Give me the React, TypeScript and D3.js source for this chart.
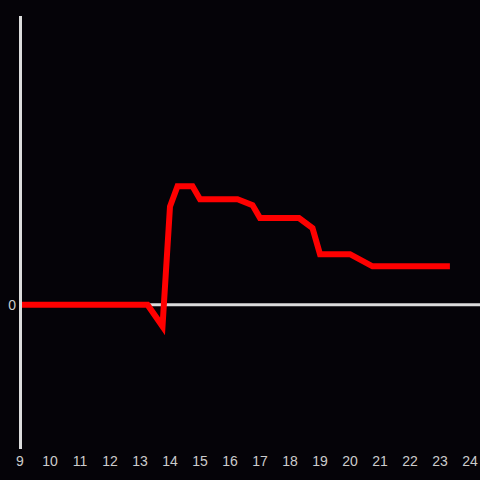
import React, { useEffect } from "react";
import * as d3 from "d3";

const hours = [9, 13.25, 13.75, 14.0, 14.25, 14.75, 15.0, 16.25, 16.75, 17.0, 18.3, 18.75, 19.0, 20.0, 20.75, 23.33];
const values = [0, 0, -7.5, 34, 41, 41, 36.5, 36.5, 34.5, 30, 30, 26.5, 17.5, 17.5, 13.3, 13.3];
const xTicks = [9, 10, 11, 12, 13, 14, 15, 16, 17, 18, 19, 20, 21, 22, 23, 24];
const yTicks = [0];

const W = 480;
const H = 480;

export default function App() {
  useEffect(() => {
    document.body.style.margin = "0";
    document.body.style.background = "#050308";
  }, []);

  const x = d3.scaleLinear().domain([9, 24]).range([20, 470]);
  const y = d3.scaleLinear().domain([-50, 100]).range([449, 16]);
  const pts: [number, number][] = hours.map((h, i) => [h, values[i]]);
  const line = d3
    .line<[number, number]>()
    .x((d) => x(d[0]))
    .y((d) => y(d[1]));

  const font = "'Liberation Sans', Arial, sans-serif";

  return (
    <svg width={W} height={H} style={{ display: "block", background: "#050308" }}>
      <rect x={0} y={0} width={W} height={H} fill="#050308" />
      <line x1={20} x2={480} y1={y(0)} y2={y(0)} stroke="#dcdcdc" strokeWidth={3} />
      <path d={line(pts) || ""} fill="none" stroke="#ff0000" strokeWidth={6} strokeLinejoin="miter" strokeLinecap="butt" />
      <line x1={20.5} x2={20.5} y1={16} y2={449} stroke="#dcdcdc" strokeWidth={3} />
      {yTicks.map((t) => (
        <text key={t} x={16} y={y(t)} dy="0.35em" textAnchor="end" fill="#cccccc" fontSize={14} fontFamily={font}>
          {t}
        </text>
      ))}
      {xTicks.map((t) => (
        <text key={t} x={x(t)} y={466} textAnchor="middle" fill="#cccccc" fontSize={14} fontFamily={font}>
          {t}
        </text>
      ))}
    </svg>
  );
}
